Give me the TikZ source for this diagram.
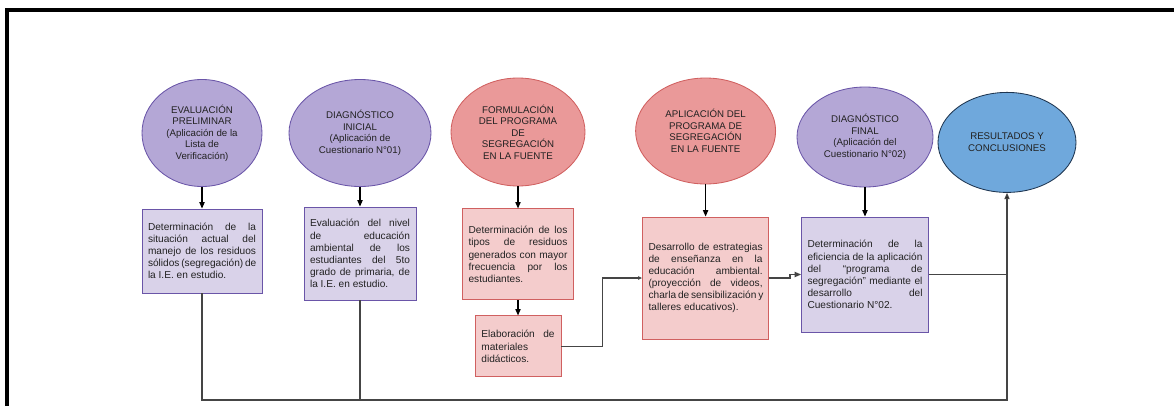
\documentclass[tikz,border=0pt]{standalone}
\usepackage{fontspec}
\setmainfont{Liberation Sans}
\usepackage{xcolor}
\usepackage{tikz}
\usetikzlibrary{arrows.meta,shapes.geometric}
\definecolor{ink}{HTML}{222222}
\definecolor{wire}{HTML}{454545}
\definecolor{lila}{HTML}{B4A7D6}
\definecolor{lilaline}{HTML}{6A55A8}
\definecolor{lilasoft}{HTML}{D9D2E9}
\definecolor{rosa}{HTML}{EA9999}
\definecolor{rosaline}{HTML}{D06060}
\definecolor{rosasoft}{HTML}{F4CCCC}
\definecolor{azul}{HTML}{6FA8DC}
\definecolor{azulline}{HTML}{1E3550}
% one justified line of a box
\newcommand{\jl}[1]{\makebox[\linewidth][s]{#1}\\}

\begin{document}
\begin{tikzpicture}[text=ink, >={Triangle[length=1.6mm,width=1.3mm]},
  el/.style={ellipse, draw, line width=0.6pt, inner sep=0pt, align=center,
    font=\fontsize{6.9}{8.2}\selectfont},
  bx/.style={rectangle, draw, line width=0.6pt, inner xsep=0.15cm,
    font=\fontsize{7.2}{8.6}\selectfont},
  pu/.style={fill=lila, draw=lilaline},
  re/.style={fill=rosa, draw=rosaline},
  ar/.style={->, black, line width=0.8pt},
  cn/.style={wire, line width=0.9pt}]
\useasboundingbox (0,0) rectangle (29.35,-10.15);
% page frame
\draw[line width=2.2pt] (0.175,-10.15) -- (0.175,-0.25) -- (29.35,-0.25);
% stages
\node[el, pu, minimum width=3.0cm, minimum height=2.675cm] (e1) at (5.05,-3.325) {EVALUACIÓN\\PRELIMINAR\\(Aplicación de la\\Lista de\\Verificación)};
\node[el, pu, minimum width=3.55cm, minimum height=2.675cm] (e2) at (9.0,-3.325) {DIAGNÓSTICO\\INICIAL\\(Aplicación de\\Cuestionario N°01)};
\node[el, re, minimum width=3.35cm, minimum height=2.7cm] (e3) at (12.95,-3.3) {FORMULACIÓN\\DEL PROGRAMA\\DE\\SEGREGACIÓN\\EN LA FUENTE};
\node[el, re, minimum width=3.5cm, minimum height=2.65cm] (e4) at (17.64,-3.275) {APLICACIÓN DEL\\PROGRAMA DE\\SEGREGACIÓN\\EN LA FUENTE};
\node[el, pu, minimum width=3.4cm, minimum height=2.5cm] (e5) at (21.625,-3.425) {DIAGNÓSTICO\\FINAL\\(Aplicación del\\Cuestionario N°02)};
\node[el, fill=azul, draw=azulline, minimum width=3.45cm, minimum height=2.5cm] (e6) at (25.175,-3.56) {RESULTADOS Y\\CONCLUSIONES};
% activities
\node[bx, fill=lilasoft, draw=lilaline, minimum width=3.0cm, minimum height=2.1cm] (b1) at (5.05,-6.275)
  {\parbox{2.7cm}{\jl{Determinación de la}\jl{situación actual del}\jl{manejo de los residuos}\jl{sólidos (segregación) de}la I.E. en estudio.}};
\node[bx, fill=lilasoft, draw=lilaline, minimum width=2.8cm, minimum height=2.325cm] (b2) at (9.0,-6.3375)
  {\parbox{2.5cm}{\jl{Evaluación del nivel}\jl{de educación}\jl{ambiental de los}\jl{estudiantes del 5to}\jl{grado de primaria, de}la I.E. en estudio.}};
\node[bx, fill=rosasoft, draw=rosaline, minimum width=2.775cm, minimum height=2.275cm] (b3) at (12.95,-6.36)
  {\parbox{2.47cm}{\jl{Determinación de los}\jl{tipos de residuos}\jl{generados con mayor}\jl{frecuencia por los}estudiantes.}};
\node[bx, fill=rosasoft, draw=rosaline, minimum width=2.15cm, minimum height=1.525cm] (b4) at (12.95,-8.66)
  {\parbox{1.83cm}{\jl{Elaboración de}materiales\\didácticos.}};
\node[bx, fill=rosasoft, draw=rosaline, minimum width=3.15cm, minimum height=3.05cm] (b5) at (17.64,-6.95)
  {\parbox{2.85cm}{\jl{Desarrollo de estrategias}\jl{de enseñanza en la}\jl{educación ambiental.}\jl{(proyección de videos,}\jl{charla de sensibilización y}talleres educativos).}};
\node[bx, fill=lilasoft, draw=lilaline, minimum width=3.15cm, minimum height=2.875cm] (b6) at (21.625,-6.8625)
  {\parbox{2.875cm}{\jl{Determinación de la}\jl{eficiencia de la aplicación}\jl{del “programa de}\jl{segregación” mediante el}\jl{desarrollo del}Cuestionario N°02.}};
\coordinate (bot) at (25.175,-10.0);
% flow
\draw[ar] (e1) -- (b1);
\draw[ar] (e2) -- (b2);
\draw[ar] (e3) -- (b3);
\draw[ar] (b3) -- (b4);
\draw[ar] (e4) -- (b5);
\draw[ar] (e5) -- (b6);
\draw[cn, -{Triangle[length=1mm,width=0.8mm]}] (b4.east) -- ++(1.025,0) |- (b5.west);
\draw[cn, -{Triangle[length=1.6mm,width=1.3mm]}] (b5.east) -- ++(0.525,0) |- (b6.west);
\draw[cn] (b2.south) -- (b2.south |- bot);
\draw[cn] (b6.east) -- (b6.east -| bot);
\draw[cn, -{Triangle[length=1.6mm,width=1.3mm,fill=black]}] (b1.south) |- (bot) -- (e6.south);
\end{tikzpicture}
\end{document}
